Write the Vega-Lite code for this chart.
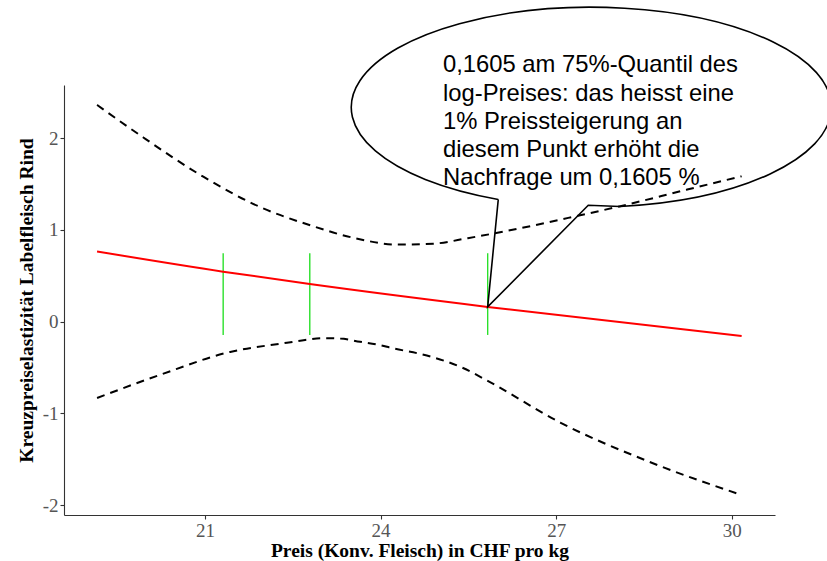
{
  "$schema": "https://vega.github.io/schema/vega-lite/v6.json",
  "width": 711,
  "height": 430,
  "autosize": {"type": "none"},
  "padding": {"left": 64, "top": 85, "right": 52, "bottom": 46},
  "background": "white",
  "config": {
    "view": {"stroke": null},
    "axis": {
      "grid": false,
      "domainColor": "#333333",
      "domainWidth": 1.1,
      "tickColor": "#333333",
      "tickWidth": 1.1,
      "tickSize": 4,
      "labelFont": "Liberation Serif",
      "labelFontSize": 19,
      "labelColor": "#555555",
      "labelPadding": 2,
      "labelExpr": "'' + datum.value",
      "titleFont": "Liberation Serif",
      "titleFontSize": 19.5,
      "titleFontWeight": "bold",
      "titleColor": "black"
    }
  },
  "datasets": {
    "bounds": [
      {"x": 19.155, "y": 2.363, "band": "oben"},
      {"x": 19.94, "y": 2.01, "band": "oben"},
      {"x": 20.97, "y": 1.58, "band": "oben"},
      {"x": 21.94, "y": 1.25, "band": "oben"},
      {"x": 22.8, "y": 1.05, "band": "oben"},
      {"x": 23.53, "y": 0.915, "band": "oben"},
      {"x": 24.3, "y": 0.84, "band": "oben"},
      {"x": 24.9, "y": 0.85, "band": "oben"},
      {"x": 25.49, "y": 0.91, "band": "oben"},
      {"x": 26.4, "y": 1.02, "band": "oben"},
      {"x": 27.41, "y": 1.16, "band": "oben"},
      {"x": 28.04, "y": 1.25, "band": "oben"},
      {"x": 29.24, "y": 1.44, "band": "oben"},
      {"x": 30.17, "y": 1.585, "band": "oben"},
      {"x": 19.155, "y": -0.832, "band": "unten"},
      {"x": 20.23, "y": -0.58, "band": "unten"},
      {"x": 21.43, "y": -0.33, "band": "unten"},
      {"x": 22.4, "y": -0.23, "band": "unten"},
      {"x": 22.71, "y": -0.2, "band": "unten"},
      {"x": 23.02, "y": -0.18, "band": "unten"},
      {"x": 23.31, "y": -0.185, "band": "unten"},
      {"x": 23.65, "y": -0.22, "band": "unten"},
      {"x": 23.94, "y": -0.25, "band": "unten"},
      {"x": 24.21, "y": -0.29, "band": "unten"},
      {"x": 24.79, "y": -0.37, "band": "unten"},
      {"x": 25.39, "y": -0.5, "band": "unten"},
      {"x": 25.87, "y": -0.66, "band": "unten"},
      {"x": 27.07, "y": -1.1, "band": "unten"},
      {"x": 28.6, "y": -1.53, "band": "unten"},
      {"x": 30.17, "y": -1.89, "band": "unten"}
    ],
    "fit": [
      {"x": 19.155, "y": 0.765},
      {"x": 21.31, "y": 0.545},
      {"x": 22.79, "y": 0.41},
      {"x": 25.83, "y": 0.1605},
      {"x": 30.17, "y": -0.156}
    ],
    "quantiles": [
      {"x": 21.31, "lo": -0.145, "hi": 0.746},
      {"x": 22.79, "lo": -0.145, "hi": 0.746},
      {"x": 25.83, "lo": -0.145, "hi": 0.746}
    ],
    "note": [
      {"x": 25.83, "y": 0.1605, "label": "0,1605 am 75%-Quantil des\nlog-Preises: das heisst eine\n1% Preissteigerung an\ndiesem Punkt erhöht die\nNachfrage um 0,1605 %"}
    ]
  },
  "layer": [
    {
      "mark": {"type": "rule", "color": "black", "strokeWidth": 1.2},
      "encoding": {"y": {"datum": 0}}
    },
    {
      "data": {"name": "quantiles"},
      "mark": {"type": "rule", "color": "#2BE02B", "strokeWidth": 1.4},
      "encoding": {
        "x": {"field": "x", "type": "quantitative"},
        "y": {"field": "lo", "type": "quantitative"},
        "y2": {"field": "hi"}
      }
    },
    {
      "data": {"name": "bounds"},
      "mark": {"type": "line", "color": "black", "strokeWidth": 2, "strokeDash": [8, 6], "interpolate": "monotone"},
      "encoding": {
        "x": {"field": "x", "type": "quantitative"},
        "y": {"field": "y", "type": "quantitative"},
        "detail": {"field": "band"}
      }
    },
    {
      "data": {"name": "fit"},
      "mark": {"type": "line", "color": "#FF0000", "strokeWidth": 2, "interpolate": "monotone"},
      "encoding": {
        "x": {
          "field": "x",
          "type": "quantitative",
          "scale": {"domain": [18.59, 30.74], "nice": false, "zero": false},
          "axis": {"values": [21, 24, 27, 30], "title": "Preis (Konv. Fleisch) in CHF pro kg", "titlePadding": 1}
        },
        "y": {
          "field": "y",
          "type": "quantitative",
          "scale": {"domain": [-2.108, 2.58], "nice": false, "zero": false},
          "axis": {"values": [-2, -1, 0, 1, 2], "title": "Kreuzpreiselastizität Labelfleisch Rind", "titlePadding": 6}
        }
      }
    },
    {
      "data": {"name": "note"},
      "mark": {
        "type": "point",
        "shape": "M 10.6 -107.5 L 0 0 L 100.6 -101.7 L 132.3 -100.4 A 240 100 0 1 0 10.6 -107.5",
        "size": 4,
        "filled": false,
        "stroke": "black",
        "strokeWidth": 1.6,
        "opacity": 1
      },
      "encoding": {
        "x": {"field": "x", "type": "quantitative"},
        "y": {"field": "y", "type": "quantitative"}
      }
    },
    {
      "data": {"name": "note"},
      "mark": {
        "type": "text",
        "font": "Liberation Sans",
        "fontSize": 23.8,
        "color": "black",
        "align": "left",
        "baseline": "alphabetic",
        "lineBreak": "\n",
        "lineHeight": 28.3,
        "dx": -44.7,
        "dy": -234.7
      },
      "encoding": {
        "x": {"field": "x", "type": "quantitative"},
        "y": {"field": "y", "type": "quantitative"},
        "text": {"field": "label"}
      }
    }
  ]
}
